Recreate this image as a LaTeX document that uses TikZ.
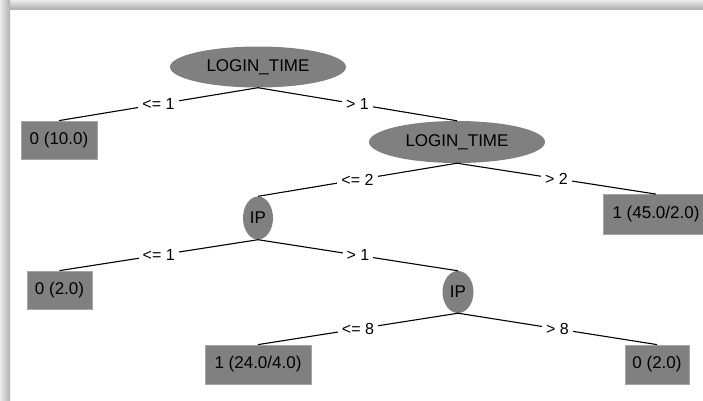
\documentclass[tikz,border=0pt]{standalone}
\usepackage{fontspec}
\setmainfont{Liberation Sans}
\usetikzlibrary{shapes.geometric}
\definecolor{nodegray}{RGB}{128,128,128}
\definecolor{boxedge}{RGB}{165,165,165}

\begin{document}
\begin{tikzpicture}[x=1pt,y=-1pt,
  split/.style={ellipse, fill=nodegray, inner sep=0pt, font=\fontsize{17}{20}\selectfont},
  leaf/.style={rectangle, fill=nodegray, draw=boxedge, line width=0.8pt, inner sep=0pt, font=\fontsize{17}{20}\selectfont},
  branch/.style={draw=black, line width=1.1pt},
  cond/.style={fill=white, inner xsep=4pt, inner ysep=1pt, font=\fontsize{16}{18}\selectfont}]

\useasboundingbox (0,0) rectangle (703,400);
\clip (0,0) rectangle (703,400);

% panel and its soft drop shadow
\fill[white] (0,0) rectangle (703,400);
\shade[top color=gray!15, bottom color=gray!62] (0,0) rectangle (703,9);
\shade[left color=gray!15, right color=gray!62] (0,0) rectangle (10,400);

% decision nodes
\node[split, minimum width=176pt, minimum height=41pt] (root) at (258,67) {LOGIN\_TIME};
\node[split, minimum width=176pt, minimum height=42pt] (lt2) at (457,142) {LOGIN\_TIME};
\node[split, minimum width=30pt, minimum height=43pt] (ip1) at (258,218) {IP};
\node[split, minimum width=31pt, minimum height=42pt] (ip2) at (458,292) {IP};

% leaves
\node[leaf, minimum width=76pt, minimum height=38pt] (l1) at (59,140) {0 (10.0)};
\node[leaf, minimum width=106pt, minimum height=40pt] (l2) at (656,214.5) {1 (45.0/2.0)};
\node[leaf, minimum width=65pt, minimum height=38pt] (l3) at (59.5,290) {0 (2.0)};
\node[leaf, minimum width=106pt, minimum height=39pt] (l4) at (258,364.5) {1 (24.0/4.0)};
\node[leaf, minimum width=64pt, minimum height=39pt] (l5) at (657,364.5) {0 (2.0)};

% branches with their split conditions
\draw[branch] (root.south) -- node[cond] {<= 1} (l1.north);
\draw[branch] (root.south) -- node[cond] {> 1} (lt2.north);
\draw[branch] (lt2.south) -- node[cond] {<= 2} (ip1.north);
\draw[branch] (lt2.south) -- node[cond] {> 2} (l2.north);
\draw[branch] (ip1.south) -- node[cond] {<= 1} (l3.north);
\draw[branch] (ip1.south) -- node[cond] {> 1} (ip2.north);
\draw[branch] (ip2.south) -- node[cond] {<= 8} (l4.north);
\draw[branch] (ip2.south) -- node[cond] {> 8} (l5.north);
\end{tikzpicture}
\end{document}
